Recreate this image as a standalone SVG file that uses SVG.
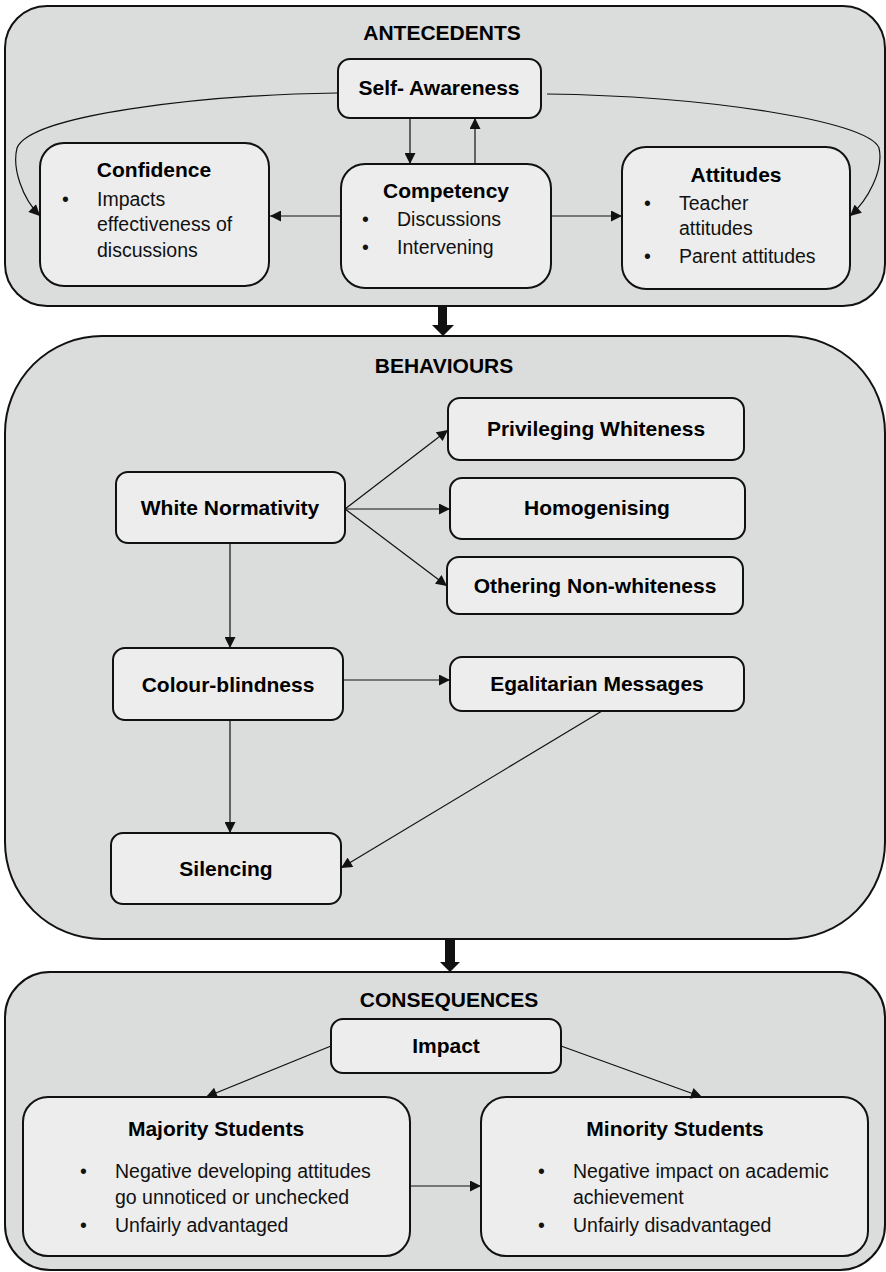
<svg xmlns="http://www.w3.org/2000/svg" width="886" height="1272" viewBox="0 0 886 1272">
<style>
.sec{fill:#dbdcdc;stroke:#111;stroke-width:2}
.nd{fill:#ededed;stroke:#111;stroke-width:2}
.t{font-family:"Liberation Sans",Arial,sans-serif;font-size:21px;font-weight:bold;fill:#000;text-anchor:middle}
.b{font-family:"Liberation Sans",Arial,sans-serif;font-size:19.5px;fill:#111}
.c{fill:none;stroke:#111;stroke-width:1.2}
.thick{fill:#111;stroke:none}
</style>
<defs>
<marker id="ah" viewBox="0 0 10 10" refX="10" refY="5" markerWidth="12" markerHeight="11" markerUnits="userSpaceOnUse" orient="auto">
<path d="M0,0 L10,5 L0,10 z" fill="#111"/>
</marker>
</defs>

<g id="antecedents">
<rect class="sec" x="5" y="6" width="880" height="300" rx="42"/>
<text class="t" x="442" y="40">ANTECEDENTS</text>
</g>
<g id="behaviours">
<rect class="sec" x="5" y="336" width="880" height="603" rx="97"/>
<text class="t" x="444" y="373">BEHAVIOURS</text>
</g>
<g id="consequences">
<rect class="sec" x="5" y="972" width="880" height="298" rx="45"/>
<text class="t" x="449" y="1007">CONSEQUENCES</text>
</g>

<g id="self-awareness">
<rect class="nd" x="338" y="59" width="203" height="59" rx="12"/>
<text class="t" x="439" y="95">Self- Awareness</text>
</g>
<g id="confidence">
<rect class="nd" x="40" y="143" width="229" height="143" rx="24"/>
<text class="t" x="154" y="177">Confidence</text>
<text class="b" x="62" y="206">•</text>
<text class="b" x="97" y="206">Impacts</text>
<text class="b" x="97" y="231">effectiveness of</text>
<text class="b" x="97" y="257">discussions</text>
</g>
<g id="competency">
<rect class="nd" x="341" y="164" width="210" height="124" rx="24"/>
<text class="t" x="446" y="198">Competency</text>
<text class="b" x="362" y="226">•</text>
<text class="b" x="397" y="226">Discussions</text>
<text class="b" x="362" y="254">•</text>
<text class="b" x="397" y="254">Intervening</text>
</g>
<g id="attitudes">
<rect class="nd" x="622" y="147" width="228" height="142" rx="24"/>
<text class="t" x="736" y="182">Attitudes</text>
<text class="b" x="644" y="210">•</text>
<text class="b" x="679" y="210">Teacher</text>
<text class="b" x="679" y="235">attitudes</text>
<text class="b" x="644" y="263">•</text>
<text class="b" x="679" y="263">Parent attitudes</text>
</g>

<g id="white-normativity">
<rect class="nd" x="116" y="472" width="229" height="71" rx="12"/>
<text class="t" x="230" y="515">White Normativity</text>
</g>
<g id="privileging-whiteness">
<rect class="nd" x="448" y="398" width="296" height="62" rx="12"/>
<text class="t" x="596" y="436">Privileging Whiteness</text>
</g>
<g id="homogenising">
<rect class="nd" x="450" y="478" width="295" height="61" rx="12"/>
<text class="t" x="597" y="515">Homogenising</text>
</g>
<g id="othering">
<rect class="nd" x="447" y="557" width="296" height="57" rx="12"/>
<text class="t" x="595" y="593">Othering Non-whiteness</text>
</g>
<g id="colour-blindness">
<rect class="nd" x="113" y="648" width="230" height="72" rx="12"/>
<text class="t" x="228" y="692">Colour-blindness</text>
</g>
<g id="egalitarian">
<rect class="nd" x="450" y="657" width="294" height="54" rx="12"/>
<text class="t" x="597" y="691">Egalitarian Messages</text>
</g>
<g id="silencing">
<rect class="nd" x="111" y="833" width="230" height="71" rx="12"/>
<text class="t" x="226" y="876">Silencing</text>
</g>

<g id="impact">
<rect class="nd" x="331" y="1019" width="230" height="54" rx="12"/>
<text class="t" x="446" y="1053">Impact</text>
</g>
<g id="majority">
<rect class="nd" x="23" y="1097" width="387" height="159" rx="25"/>
<text class="t" x="216" y="1136">Majority Students</text>
<text class="b" x="80" y="1178">•</text>
<text class="b" x="115" y="1178">Negative developing attitudes</text>
<text class="b" x="115" y="1204">go unnoticed or unchecked</text>
<text class="b" x="80" y="1232">•</text>
<text class="b" x="115" y="1232">Unfairly advantaged</text>
</g>
<g id="minority">
<rect class="nd" x="481" y="1097" width="387" height="159" rx="25"/>
<text class="t" x="675" y="1136">Minority Students</text>
<text class="b" x="538" y="1178">•</text>
<text class="b" x="573" y="1178">Negative impact on academic</text>
<text class="b" x="573" y="1204">achievement</text>
<text class="b" x="538" y="1232">•</text>
<text class="b" x="573" y="1232">Unfairly disadvantaged</text>
</g>

<g id="connectors">
<line class="c" x1="410" y1="118" x2="410" y2="164" marker-end="url(#ah)"/>
<line class="c" x1="475" y1="164" x2="475" y2="118" marker-end="url(#ah)"/>
<line class="c" x1="341" y1="216" x2="270" y2="216" marker-end="url(#ah)"/>
<line class="c" x1="551" y1="216" x2="622" y2="216" marker-end="url(#ah)"/>
<path class="c" d="M337,93 C200,95 30,115 17,148 C12,168 22,198 40,216" marker-end="url(#ah)"/>
<path class="c" d="M547,94 C700,96 868,120 879,148 C884,170 868,200 850,216" marker-end="url(#ah)"/>
<line class="c" x1="345" y1="509" x2="448" y2="430" marker-end="url(#ah)"/>
<line class="c" x1="345" y1="509" x2="450" y2="509" marker-end="url(#ah)"/>
<line class="c" x1="345" y1="509" x2="447" y2="586" marker-end="url(#ah)"/>
<line class="c" x1="230" y1="543" x2="230" y2="648" marker-end="url(#ah)"/>
<line class="c" x1="343" y1="680" x2="450" y2="680" marker-end="url(#ah)"/>
<line class="c" x1="230" y1="720" x2="230" y2="833" marker-end="url(#ah)"/>
<line class="c" x1="602" y1="711" x2="341" y2="868" marker-end="url(#ah)"/>
<line class="c" x1="331" y1="1046" x2="206" y2="1097" marker-end="url(#ah)"/>
<line class="c" x1="561" y1="1046" x2="702" y2="1097" marker-end="url(#ah)"/>
<line class="c" x1="410" y1="1186" x2="481" y2="1186" marker-end="url(#ah)"/>
<polygon class="thick" points="438,307 447,307 447,325 454,325 443,336 432,325 438,325"/>
<polygon class="thick" points="445,940 455,940 455,962 460,962 450,972 440,962 445,962"/>
</g>
</svg>
